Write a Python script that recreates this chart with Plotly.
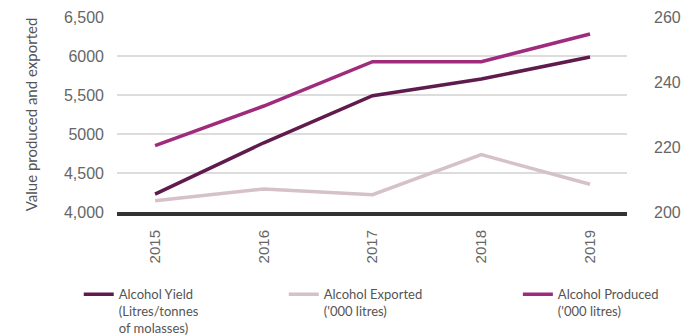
import plotly.graph_objects as go

years = ["2015", "2016", "2017", "2018", "2019"]
alcohol_yield = [205.5, 221.3, 235.8, 240.9, 247.7]      # right axis (Litres/tonnes of molasses)
alcohol_exported = [4145, 4295, 4222, 4735, 4355]        # left axis ('000 litres)
alcohol_produced = [4850, 5359, 5927, 5927, 6282]        # left axis ('000 litres)

left_tickvals = [4000, 4500, 5000, 5500, 6000, 6500]
left_ticktext = ["4,000", "4,500", "5000", "5,500", "6000", "6,500"]
right_tickvals = [200, 220, 240, 260]

c_yield = "#5f1b4d"
c_export = "#d5c1c9"
c_prod = "#9e2b7c"

fig = go.Figure()
fig.add_trace(go.Scatter(x=years, y=alcohol_yield, name="Alcohol Yield<br>(Litres/tonnes<br>of molasses)",
                         mode="lines", line=dict(color=c_yield, width=3.5), yaxis="y2", legend="legend"))
fig.add_trace(go.Scatter(x=years, y=alcohol_exported, name="Alcohol Exported<br>('000 litres)",
                         mode="lines", line=dict(color=c_export, width=3.5), yaxis="y", legend="legend2"))
fig.add_trace(go.Scatter(x=years, y=alcohol_produced, name="Alcohol Produced<br>('000 litres)",
                         mode="lines", line=dict(color=c_prod, width=3.5), yaxis="y", legend="legend3"))

legend_common = dict(orientation="v", yanchor="top", xanchor="left", maxheight=120, valign="top",
                     font=dict(family="Lato", size=13, color="#555555"),
                     bgcolor="rgba(0,0,0,0)", borderwidth=0, tracegroupgap=0, visible=True)

tick_font = dict(family="Liberation Sans, Arial", size=16, color="#666666")

fig.update_layout(
    width=686, height=336, showlegend=True,
    margin=dict(l=117, r=59, t=17, b=124, autoexpand=False),
    paper_bgcolor="white", plot_bgcolor="white",
    font=dict(family="Liberation Sans, Arial", size=14, color="#666666"),
    xaxis=dict(type="category", range=[-0.35, 4.34], tickangle=-90,
               showgrid=False, showline=True, linecolor="#333333", linewidth=4,
               ticks="", ticklabelstandoff=8,
               tickfont=dict(family="Liberation Sans, Arial", size=15, color="#666666")),
    yaxis=dict(range=[4000, 6500], tickvals=left_tickvals, ticktext=left_ticktext,
               showgrid=True, gridcolor="#dcdcdc", gridwidth=1.5, zeroline=False,
               ticks="", ticklabelstandoff=12,
               title=dict(text="Value produced and exported", standoff=22,
                          font=dict(family="Lato", size=15, color="#555555")),
               tickfont=tick_font),
    yaxis2=dict(range=[200, 260], tickvals=right_tickvals, overlaying="y", side="right",
                showgrid=False, zeroline=False, ticks="", ticklabelstandoff=26,
                tickfont=tick_font),
    legend=dict(x=-0.075, y=-0.345, **legend_common),
    legend2=dict(x=0.327, y=-0.345, **legend_common),
    legend3=dict(x=0.786, y=-0.345, **legend_common),
)

fig.write_html("out.html")
